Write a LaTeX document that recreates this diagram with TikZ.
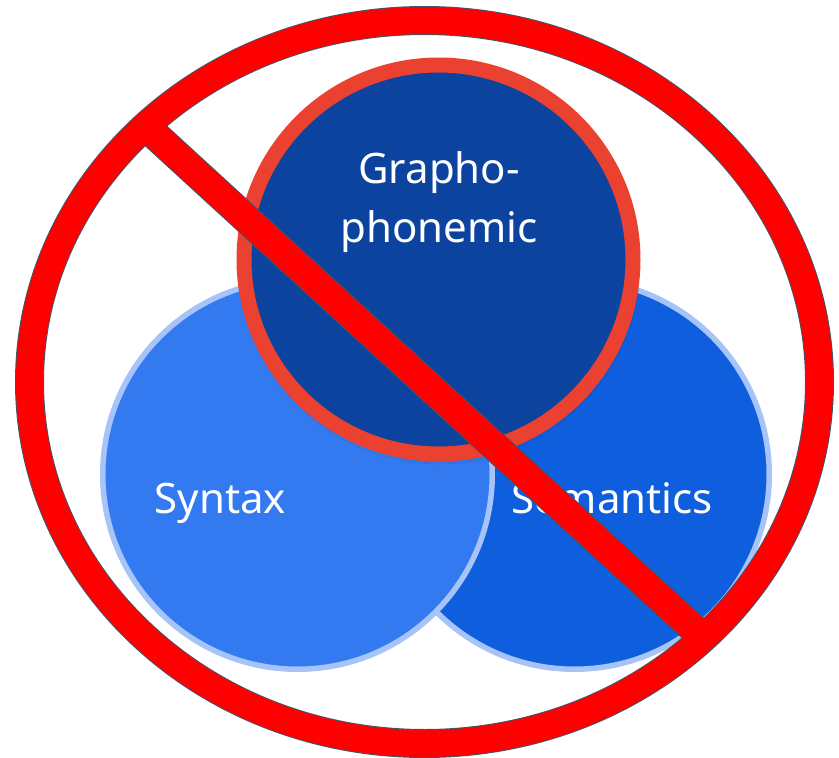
\documentclass[tikz,border=0pt]{standalone}
\usepackage{fontspec}
\setmainfont{Noto Sans}
\usetikzlibrary{shadows.blur}

\definecolor{signred}{HTML}{FF0000}
\definecolor{signedge}{HTML}{44546A}
\definecolor{graphoedge}{HTML}{EA4130}
\definecolor{graphofill}{HTML}{0B439E}
\definecolor{syntaxfill}{HTML}{337AF0}
\definecolor{semanticsfill}{HTML}{0F5EDD}
\definecolor{cueedge}{HTML}{A6C4F7}

\tikzset{
  cue/.style={circle,inner sep=0pt,outer sep=0pt,line width=5.5pt,draw=cueedge},
  cuetext/.style={text=white,font=\fontsize{42}{59}\selectfont,align=center},
}

\begin{document}
\begin{tikzpicture}[x=1pt,y=-1pt]
  \useasboundingbox (0,0) rectangle (839,758);
  % three cueing circles, grapho-phonemic on top
  \node[cue,fill=semanticsfill,minimum size=389.5pt] (semantics) at (574.5,474.5) {};
  \node[cue,fill=syntaxfill,minimum size=389.5pt] (syntax) at (297.5,474.5) {};
  \node[cue,fill=graphofill,draw=graphoedge,line width=15pt,minimum size=389pt,
        blur shadow={shadow xshift=1pt,shadow yshift=-4pt,shadow blur radius=6pt,shadow opacity=30}]
        (grapho) at (438.5,259.5) {};
  \node[cuetext,anchor=base] (syntaxlbl) at (220.5,513) {Syntax};
  \node[cuetext,anchor=base] (semanticslbl) at (612,513) {Semantics};
  \node[cuetext,anchor=base] (grapholbl) at (439,242) {Grapho-\\phonemic};
  % the "no" sign: ring and bar share one outline
  \coordinate (mid) at (424.5,382);
  \path (mid) ++(222.5:378.6) coordinate (barA);
  \path (mid) ++(42.5:378.6) coordinate (barB);
  \draw[signedge,line width=29pt] (mid) ellipse [x radius=395,y radius=361.5];
  \draw[signedge,line width=30pt] (barA) -- (barB);
  \draw[signred,line width=27pt] (mid) ellipse [x radius=395,y radius=361.5];
  \draw[signred,line width=28pt] (barA) -- (barB);
\end{tikzpicture}
\end{document}
